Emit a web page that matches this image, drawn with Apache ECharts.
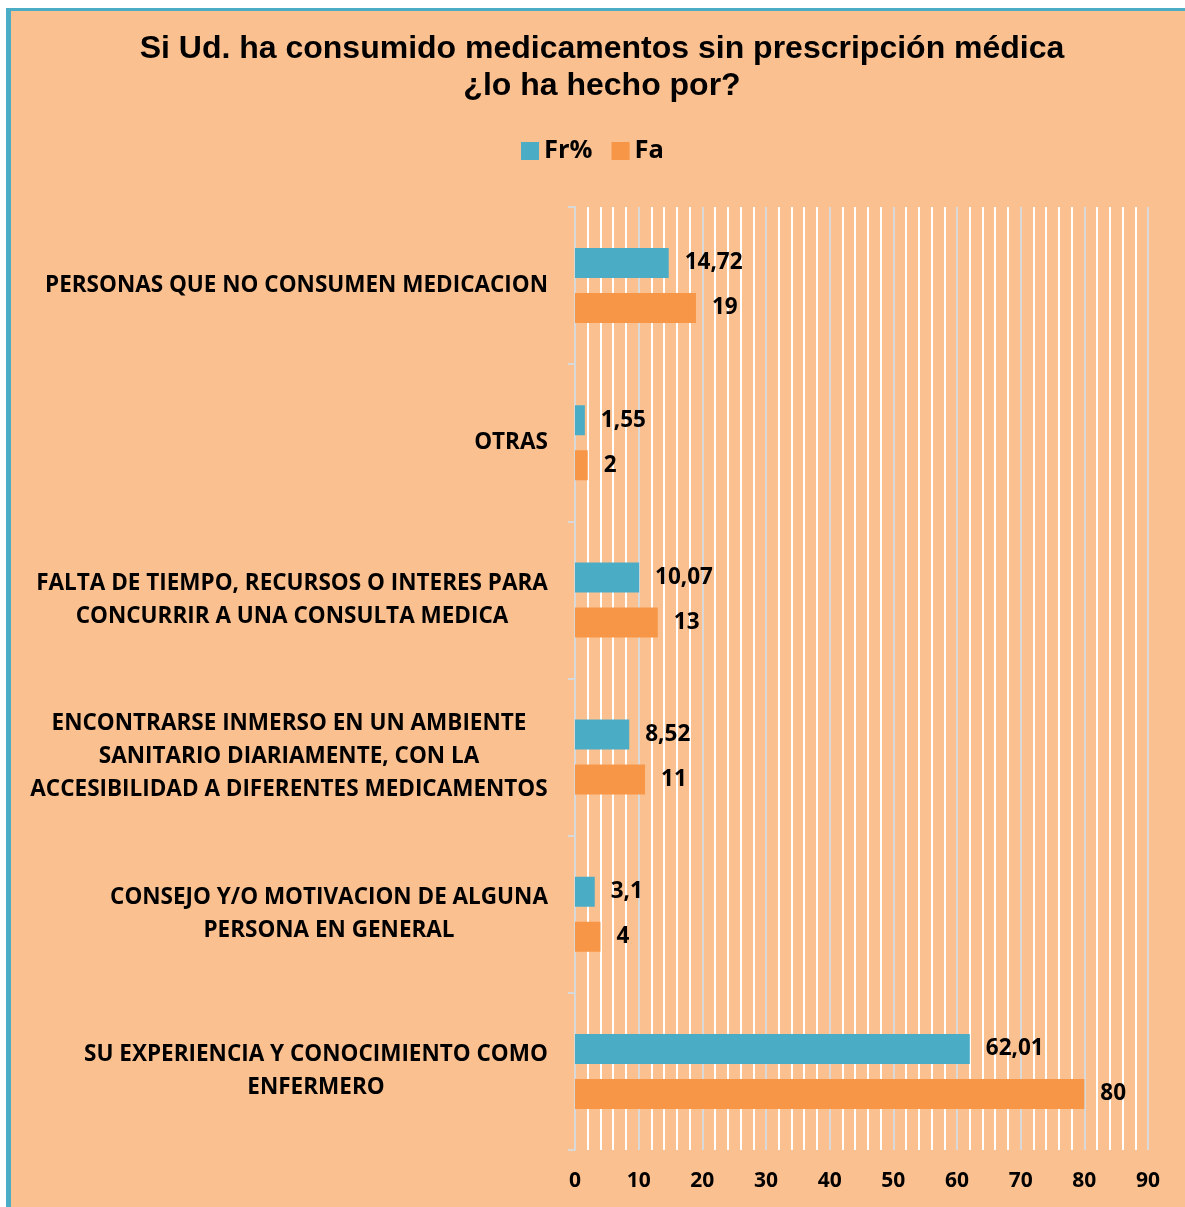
<!DOCTYPE html>
<html>
<head>
<meta charset="utf-8">
<script src="https://cdn.jsdelivr.net/npm/echarts@6/dist/echarts.min.js"></script>
<style>
    html, body { margin: 0; padding: 0; background: #ffffff; }
    #frame {
        position: absolute; left: 6px; top: 8px; width: 1179px; height: 1199px;
        box-sizing: border-box; background: #FAC090;
        border-left: 5px solid #4BACC6; border-top: 3px solid #4BACC6;
    }
    #chart { position: absolute; left: 0; top: 0; width: 1185px; height: 1207px; }
</style>
</head>
<body>
<div id="frame"></div>
<div id="chart"></div>
<script>
//categorias (de abajo hacia arriba)
var categories = [
    'SU EXPERIENCIA Y CONOCIMIENTO COMO\nENFERMERO',
    'CONSEJO Y/O MOTIVACION DE ALGUNA\nPERSONA EN GENERAL',
    'ENCONTRARSE INMERSO EN UN AMBIENTE\nSANITARIO DIARIAMENTE, CON LA\nACCESIBILIDAD A DIFERENTES MEDICAMENTOS',
    'FALTA DE TIEMPO, RECURSOS O INTERES PARA\nCONCURRIR A UNA CONSULTA MEDICA',
    'OTRAS',
    'PERSONAS QUE NO CONSUMEN MEDICACION'
];
var frPct = [62.01, 3.1, 8.52, 10.07, 1.55, 14.72];
var fa = [80, 4, 11, 13, 2, 19];
var xTicks = [0, 10, 20, 30, 40, 50, 60, 70, 80, 90];

var labelFont = 'Open Sans';
var labelSize = 22.5;

//medir ancho de cada etiqueta para centrar las lineas
var ctx = document.createElement('canvas').getContext('2d');
ctx.font = 'bold ' + labelSize + 'px "' + labelFont + '"';
var rich = {};
categories.forEach(function(c, i) {
    var w = 0;
    c.split('\n').forEach(function(line) {
        w = Math.max(w, ctx.measureText(line).width);
    });
    rich['c' + i] = {
        width: Math.ceil(w) + 2,
        align: 'center',
        fontFamily: labelFont,
        fontWeight: 'bold',
        fontSize: labelSize,
        lineHeight: 33,
        color: '#000'
    };
});

function comma(p) {
    return String(p.value).replace('.', ',');
}

var valueLabel = {
    show: true,
    position: 'right',
    distance: 16,
    formatter: comma,
    fontFamily: labelFont,
    fontWeight: 'bold',
    fontSize: 22.5,
    color: '#000'
};

var chart = echarts.init(document.getElementById('chart'));

chart.setOption({
    backgroundColor: 'transparent',
    animation: false,
    title: {
        text: 'Si Ud. ha consumido medicamentos sin prescripción médica\n¿lo ha hecho por?',
        left: 597,
        textAlign: 'center',
        top: 26,
        textStyle: {
            fontFamily: 'Liberation Sans',
            fontWeight: 'bold',
            fontSize: 32,
            lineHeight: 37,
            color: '#000'
        }
    },
    legend: {
        data: ['Fr%', 'Fa'],
        top: 133,
        left: 'center',
        icon: 'rect',
        itemWidth: 18,
        itemHeight: 18,
        itemGap: 19,
        textStyle: {
            fontFamily: labelFont,
            fontWeight: 'bold',
            fontSize: 25.5,
            color: '#000'
        }
    },
    grid: {
        left: 575,
        right: 37,
        top: 207,
        bottom: 57,
        containLabel: false
    },
    xAxis: {
        type: 'value',
        min: xTicks[0],
        max: xTicks[xTicks.length - 1],
        interval: 10,
        axisLine: { show: false },
        axisTick: { show: false },
        axisLabel: {
            margin: 21,
            fontFamily: labelFont,
            fontWeight: 'bold',
            fontSize: 21,
            color: '#000'
        },
        splitLine: { show: true, lineStyle: { color: '#D9D9D9', width: 2 } },
        minorTick: { show: false, splitNumber: 5 },
        minorSplitLine: { show: true, lineStyle: { color: '#FFFFFF', width: 2 } }
    },
    yAxis: {
        type: 'category',
        data: categories,
        axisLine: { show: true, lineStyle: { color: '#D9D9D9', width: 2 } },
        axisTick: { show: true, length: 7, lineStyle: { color: '#D9D9D9', width: 2 } },
        axisLabel: {
            margin: 26,
            formatter: function(v, i) {
                return '{c' + i + '|' + v + '}';
            },
            rich: rich
        }
    },
    series: [{
        name: 'Fr%',
        type: 'bar',
        data: frPct,
        barWidth: 30,
        barGap: '50%',
        itemStyle: { color: '#4BACC6' },
        label: valueLabel
    }, {
        name: 'Fa',
        type: 'bar',
        data: fa,
        barWidth: 30,
        barGap: '50%',
        itemStyle: { color: '#F79646' },
        label: valueLabel
    }]
});
</script>
</body>
</html>
